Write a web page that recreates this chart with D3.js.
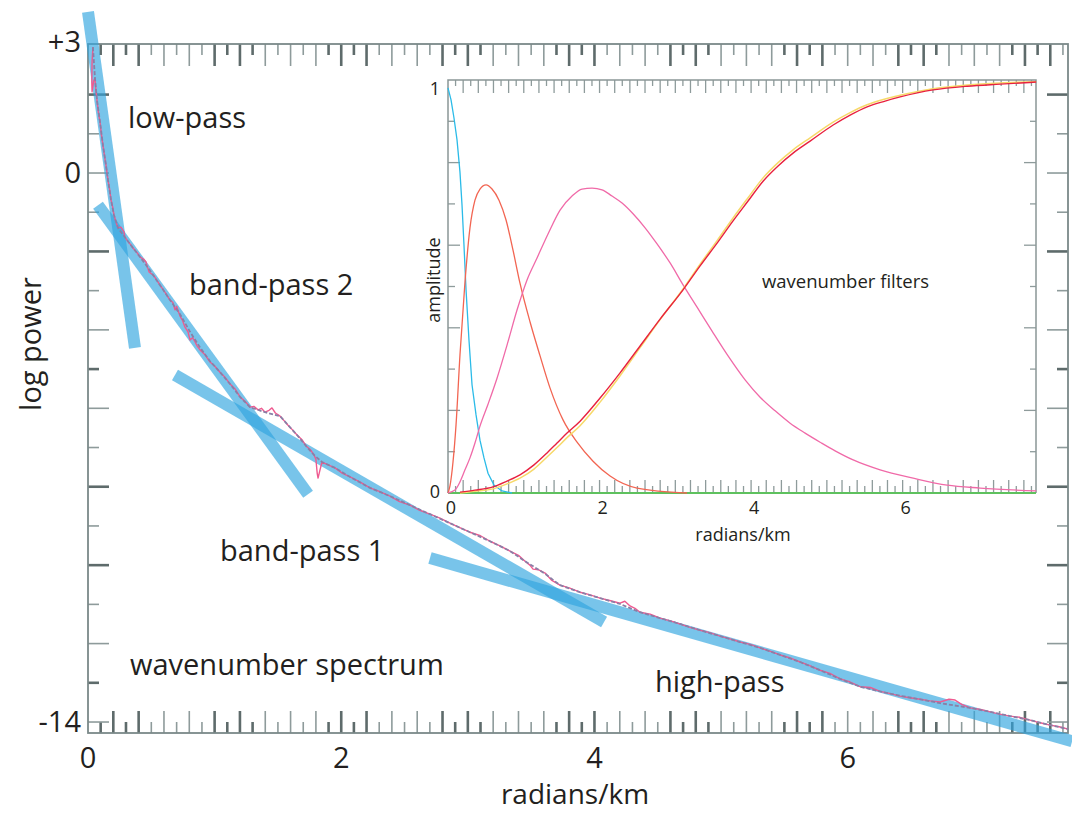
<!DOCTYPE html>
<html><head><meta charset="utf-8">
<script src="https://cdn.jsdelivr.net/npm/d3@7"></script>
<style>
body{margin:0;background:#fff}
svg{display:block}
text{font-family:"Open Sans",sans-serif;fill:#231f20}
</style>
</head><body>
<svg id="c" width="1072" height="814"></svg>
<script>
// ---------- DATA ----------
const xTickLabels = [0, 2, 4, 6];
const yTickLabelValues = [3, 0, -14];
const yTickLabelTexts = ["+3", "0", "-14"];
const insetXTickLabels = [0, 2, 4, 6];
const insetYTickLabels = [0, 1];

// straight-line fits: [x, log power] end points
const fitLowPass   = [[0.000, 4.11], [0.371, -4.46]];
const fitBandPass2 = [[0.079, -0.82], [1.738, -8.19]];
const fitBandPass1 = [[0.687, -5.15], [4.076, -11.45]];
const fitHighPass  = [[2.701, -9.82], [7.773, -14.49]];

// wavenumber spectrum (raw, pink)
const spectrumRaw = [[0.039,3.21],[0.032,2.83],[0.030,2.30],[0.032,2.07],[0.045,2.35],[0.055,2.42],[0.063,2.10],[0.071,1.86],[0.083,1.52],[0.095,1.30],[0.106,0.98],[0.118,0.71],[0.130,0.45],[0.142,0.20],[0.158,-0.18],[0.170,-0.40],[0.182,-0.69],[0.194,-0.85],[0.205,-1.07],[0.221,-1.25],[0.237,-1.40],[0.260,-1.38],[0.284,-1.50],[0.290,-1.62],[0.308,-1.71],[0.330,-1.80],[0.355,-1.91],[0.385,-2.02],[0.411,-2.14],[0.440,-2.20],[0.458,-2.27],[0.470,-2.40],[0.482,-2.52],[0.520,-2.62],[0.569,-2.86],[0.610,-3.05],[0.648,-3.24],[0.670,-3.30],[0.687,-3.49],[0.700,-3.40],[0.727,-3.65],[0.745,-3.75],[0.766,-3.93],[0.790,-4.05],[0.806,-4.26],[0.825,-4.20],[0.845,-4.30],[0.860,-4.40],[0.885,-4.51],[0.920,-4.62],[0.964,-4.82],[1.000,-4.92],[1.043,-5.08],[1.080,-5.20],[1.122,-5.38],[1.160,-5.50],[1.201,-5.71],[1.240,-5.82],[1.280,-5.97],[1.310,-5.95],[1.343,-6.04],[1.370,-6.00],[1.398,-6.10],[1.430,-6.05],[1.453,-5.99],[1.480,-6.12],[1.517,-6.20],[1.550,-6.32],[1.580,-6.43],[1.615,-6.55],[1.651,-6.68],[1.690,-6.80],[1.722,-6.96],[1.755,-7.05],[1.785,-7.19],[1.800,-7.30],[1.810,-7.65],[1.817,-7.78],[1.830,-7.60],[1.848,-7.37],[1.900,-7.45],[1.951,-7.52],[2.010,-7.66],[2.070,-7.75],[2.150,-7.88],[2.227,-8.03],[2.300,-8.12],[2.385,-8.24],[2.460,-8.38],[2.543,-8.47],[2.620,-8.60],[2.701,-8.70],[2.780,-8.80],[2.859,-8.93],[2.940,-9.05],[3.017,-9.16],[3.100,-9.25],[3.175,-9.39],[3.250,-9.50],[3.333,-9.64],[3.400,-9.75],[3.452,-9.90],[3.490,-10.00],[3.515,-10.10],[3.560,-10.12],[3.610,-10.20],[3.660,-10.38],[3.728,-10.51],[3.800,-10.58],[3.886,-10.69],[3.960,-10.75],[4.044,-10.84],[4.120,-10.90],[4.202,-10.97],[4.240,-10.92],[4.281,-11.04],[4.320,-11.10],[4.360,-11.20],[4.440,-11.25],[4.518,-11.35],[4.600,-11.42],[4.676,-11.50],[4.750,-11.58],[4.834,-11.66],[4.910,-11.72],[4.992,-11.81],[5.070,-11.88],[5.150,-11.96],[5.230,-12.02],[5.308,-12.11],[5.390,-12.20],[5.466,-12.29],[5.540,-12.36],[5.624,-12.47],[5.700,-12.56],[5.782,-12.68],[5.860,-12.76],[5.940,-12.90],[6.020,-12.98],[6.098,-13.10],[6.180,-13.12],[6.256,-13.22],[6.330,-13.27],[6.414,-13.34],[6.490,-13.38],[6.572,-13.42],[6.650,-13.46],[6.730,-13.49],[6.800,-13.42],[6.848,-13.44],[6.900,-13.55],[6.967,-13.64],[7.050,-13.68],[7.125,-13.74],[7.200,-13.80],[7.283,-13.85],[7.360,-13.88],[7.441,-13.95],[7.520,-14.02],[7.599,-14.08],[7.670,-14.12],[7.741,-14.18]];

// wavenumber spectrum (smoothed, grey-purple)
const spectrumSmooth = [[0.039,3.21],[0.055,2.42],[0.071,1.86],[0.095,1.30],[0.118,0.71],[0.142,0.20],[0.158,-0.18],[0.182,-0.69],[0.205,-1.07],[0.237,-1.40],[0.308,-1.71],[0.355,-1.91],[0.411,-2.14],[0.482,-2.45],[0.569,-2.86],[0.648,-3.24],[0.727,-3.60],[0.806,-4.05],[0.885,-4.45],[0.964,-4.80],[1.043,-5.08],[1.122,-5.38],[1.201,-5.71],[1.280,-5.97],[1.398,-6.10],[1.517,-6.20],[1.580,-6.43],[1.651,-6.68],[1.722,-6.96],[1.785,-7.19],[1.848,-7.37],[1.951,-7.52],[2.070,-7.75],[2.227,-8.03],[2.385,-8.24],[2.543,-8.47],[2.701,-8.70],[2.859,-8.93],[3.017,-9.16],[3.175,-9.39],[3.333,-9.64],[3.452,-9.90],[3.610,-10.22],[3.728,-10.51],[3.886,-10.69],[4.044,-10.84],[4.202,-10.99],[4.360,-11.20],[4.518,-11.35],[4.676,-11.50],[4.834,-11.66],[4.992,-11.81],[5.150,-11.96],[5.308,-12.11],[5.466,-12.29],[5.624,-12.47],[5.782,-12.68],[5.940,-12.90],[6.098,-13.10],[6.256,-13.22],[6.414,-13.33],[6.572,-13.42],[6.730,-13.52],[6.967,-13.64],[7.125,-13.74],[7.283,-13.85],[7.441,-13.95],[7.599,-14.08],[7.741,-14.18]];

// inset: wavenumber filters (radians/km, amplitude)
const filterLowPass = [[0.000,0.981],[0.040,0.952],[0.079,0.908],[0.119,0.855],[0.158,0.777],[0.185,0.697],[0.211,0.600],[0.238,0.492],[0.277,0.370],[0.317,0.262],[0.370,0.189],[0.422,0.128],[0.475,0.085],[0.528,0.048],[0.607,0.019],[0.713,0.005],[0.845,0.000]];
const filterBandPass1 = [[0.000,0.000],[0.026,0.017],[0.066,0.075],[0.106,0.165],[0.158,0.334],[0.224,0.511],[0.290,0.642],[0.356,0.709],[0.422,0.736],[0.502,0.746],[0.581,0.736],[0.673,0.709],[0.766,0.661],[0.858,0.588],[0.950,0.508],[1.083,0.414],[1.215,0.332],[1.347,0.254],[1.518,0.177],[1.703,0.123],[1.914,0.077],[2.139,0.041],[2.495,0.012],[3.155,0.000]];
const filterBandPass2 = [[0.000,0.000],[0.092,0.007],[0.158,0.027],[0.224,0.056],[0.290,0.085],[0.356,0.121],[0.422,0.162],[0.528,0.215],[0.647,0.278],[0.779,0.358],[0.911,0.443],[1.043,0.516],[1.175,0.569],[1.320,0.627],[1.479,0.685],[1.637,0.719],[1.769,0.736],[1.901,0.738],[2.033,0.734],[2.165,0.719],[2.297,0.702],[2.442,0.676],[2.601,0.642],[2.759,0.603],[2.931,0.557],[3.102,0.504],[3.287,0.450],[3.485,0.392],[3.696,0.332],[3.921,0.274],[4.119,0.232],[4.317,0.199],[4.515,0.169],[4.713,0.145],[4.911,0.123],[5.109,0.102],[5.347,0.080],[5.703,0.056],[6.139,0.036],[6.587,0.019],[7.023,0.012],[7.762,0.005]];
const filterHighPass = [[0.158,0.002],[0.356,0.007],[0.594,0.015],[0.779,0.029],[0.950,0.044],[1.135,0.068],[1.307,0.097],[1.439,0.121],[1.571,0.145],[1.743,0.174],[2.007,0.230],[2.271,0.291],[2.535,0.356],[2.799,0.421],[3.102,0.492],[3.327,0.550],[3.551,0.605],[3.762,0.659],[3.960,0.707],[4.158,0.755],[4.356,0.792],[4.554,0.823],[4.779,0.852],[5.083,0.891],[5.307,0.915],[5.531,0.935],[5.769,0.949],[5.967,0.959],[6.403,0.976],[6.852,0.985],[7.287,0.990],[7.762,0.995]];
const filterSum = [[0.158,0.000],[0.356,0.004],[0.594,0.010],[0.779,0.022],[0.950,0.036],[1.135,0.058],[1.307,0.087],[1.439,0.110],[1.571,0.134],[1.743,0.163],[2.007,0.220],[2.271,0.284],[2.535,0.352],[2.799,0.420],[3.102,0.494],[3.327,0.554],[3.551,0.611],[3.762,0.666],[3.960,0.715],[4.158,0.763],[4.356,0.800],[4.554,0.831],[4.779,0.860],[5.083,0.898],[5.307,0.921],[5.531,0.940],[5.769,0.954],[5.967,0.963],[6.403,0.979],[6.852,0.988],[7.287,0.993],[7.762,0.996]];
const filterZero = [[0, 0], [7.76, 0]];

// ---------- DRAW ----------
const svg = d3.select("#c");
const x = d3.scaleLinear().domain([0, 7.74]).range([88, 1068]);
const y = d3.scaleLinear().domain([-14.28, 3.29]).range([733, 44]);
const ix = d3.scaleLinear().domain([0, 7.76]).range([448, 1036]);
const iy = d3.scaleLinear().domain([0, 1]).range([493, 80]);

const thin = "#8e9b9b", thick = "#5e6b6b", frameCol = "#7b8989";
const [X0, X1] = x.range(), [Y0, Y1] = y.range();

// main ticks along x (top and bottom)
const xMinor = d3.range(1, 78).map(i => i / 10);
const gT = svg.append("g");
xMinor.forEach((v, k) => {
  const i = k + 1;
  const long = i % 2 === 0;
  const isThick = ((i - 1) % 9) < 4;
  const len = long ? 22 : 11;
  const px = x(v);
  [[Y1, Y1 + len], [Y0, Y0 - len]].forEach(([a, b]) => {
    gT.append("line").attr("x1", px).attr("x2", px).attr("y1", a).attr("y2", b)
      .attr("stroke", isThick ? thick : thin).attr("stroke-width", isThick ? 2.6 : 1.6);
  });
});
// main ticks along y (left and right)
const yMinor = d3.range(-14, 3);
const thickY = new Set([2, -2, -5, -8, -10, -13]);
yMinor.forEach(v => {
  const long = v % 2 === 0;
  const len = long ? 21 : 11;
  const py = y(v);
  const isThick = thickY.has(v);
  [[X0, X0 + len], [X1, X1 - len]].forEach(([a, b]) => {
    gT.append("line").attr("x1", a).attr("x2", b).attr("y1", py).attr("y2", py)
      .attr("stroke", isThick ? thick : thin).attr("stroke-width", isThick ? 2.6 : 1.6);
  });
});
svg.append("rect").attr("x", X0).attr("y", Y1).attr("width", X1 - X0).attr("height", Y0 - Y1)
  .attr("fill", "none").attr("stroke", frameCol).attr("stroke-width", 1.8);

// fit lines
const line = d3.line().x(d => x(d[0])).y(d => y(d[1]));
[fitLowPass, fitBandPass2, fitBandPass1, fitHighPass].forEach(f => {
  svg.append("path").attr("d", line(f)).attr("fill", "none")
    .attr("stroke", "#2fa5de").attr("stroke-opacity", 0.65).attr("stroke-width", 12);
});
// spectrum
svg.append("path").attr("d", line(spectrumRaw)).attr("fill", "none")
  .attr("stroke", "#ef5a90").attr("stroke-width", 1.4).attr("stroke-linejoin", "round");
svg.append("path").attr("d", line(spectrumSmooth)).attr("fill", "none")
  .attr("stroke", "#8a7fa6").attr("stroke-width", 1.8).attr("stroke-dasharray", "4,2");

// main tick labels
svg.append("g").selectAll("text").data(xTickLabels).join("text")
  .attr("x", d => x(d)).attr("y", 768).attr("text-anchor", "middle")
  .style("font-size", "29px").text(d => d);
svg.append("g").selectAll("text").data(yTickLabelValues).join("text")
  .attr("x", 81).attr("y", (d, i) => (i === 0 ? y.range()[1] - 2 : y(d)) + 10)
  .attr("text-anchor", "end").style("font-size", "29px")
  .text((d, i) => yTickLabelTexts[i]);

// main axis titles & annotations
svg.append("text").attr("x", 575).attr("y", 804).attr("text-anchor", "middle")
  .style("font-size", "28px").text("radians/km");
svg.append("text").attr("transform", "translate(41,344) rotate(-90)").attr("text-anchor", "middle")
  .style("font-size", "29px").text("log power");
const notes = [["low-pass", 128, 128], ["band-pass 2", 189, 295], ["band-pass 1", 220, 561],
               ["wavenumber spectrum", 130, 675], ["high-pass", 655, 692]];
svg.append("g").selectAll("text").data(notes).join("text")
  .attr("x", d => d[1]).attr("y", d => d[2]).style("font-size", "29px").text(d => d[0]);

// ---------- INSET ----------
const [IX0, IX1] = ix.range(), [IY0, IY1] = iy.range();
const gi = svg.append("g");
const iTickCol = "#8e9b9b";
xMinor.forEach((v, k) => {
  const i = k + 1;
  const long = i % 2 === 0;
  const px = ix(v);
  gi.append("line").attr("x1", px).attr("x2", px).attr("y1", IY1).attr("y2", IY1 + (long ? 13 : 6))
    .attr("stroke", iTickCol).attr("stroke-width", 1.3);
  gi.append("line").attr("x1", px).attr("x2", px).attr("y1", IY0).attr("y2", IY0 - (long ? 13 : 7))
    .attr("stroke", iTickCol).attr("stroke-width", 1.3);
});
d3.range(1, 10).forEach(i => {
  const v = i / 10, long = i % 2 === 0, py = iy(v);
  gi.append("line").attr("x1", IX0).attr("x2", IX0 + (long ? 12 : 7)).attr("y1", py).attr("y2", py)
    .attr("stroke", iTickCol).attr("stroke-width", 1.3);
  gi.append("line").attr("x1", IX1).attr("x2", IX1 - (long ? 12 : 6)).attr("y1", py).attr("y2", py)
    .attr("stroke", iTickCol).attr("stroke-width", 1.3);
});
gi.append("path").attr("d", `M${IX0},${IY0}V${IY1}H${IX1}V${IY0}`).attr("fill", "none")
  .attr("stroke", "#8a9696").attr("stroke-width", 1.5);

const iline = d3.line().x(d => ix(d[0])).y(d => iy(d[1])).curve(d3.curveMonotoneX);
const ilineLin = d3.line().x(d => ix(d[0])).y(d => iy(d[1]));
gi.append("path").attr("d", ilineLin(filterZero)).attr("fill", "none").attr("stroke", "#5ec15e").attr("stroke-width", 1.8);
gi.append("path").attr("d", ilineLin(filterLowPass)).attr("fill", "none").attr("stroke", "#2bbbe8").attr("stroke-width", 1.3);
gi.append("path").attr("d", iline(filterBandPass1)).attr("fill", "none").attr("stroke", "#f26552").attr("stroke-width", 1.3);
gi.append("path").attr("d", iline(filterBandPass2)).attr("fill", "none").attr("stroke", "#f06aa8").attr("stroke-width", 1.3);
gi.append("path").attr("d", iline(filterSum)).attr("fill", "none").attr("stroke", "#f7d96a").attr("stroke-width", 1.5);
gi.append("path").attr("d", iline(filterHighPass)).attr("fill", "none").attr("stroke", "#e8213f").attr("stroke-width", 1.4);

// inset labels
gi.selectAll("text.xl").data(insetXTickLabels).join("text").attr("class", "xl")
  .attr("x", d => ix(d) + 3).attr("y", 514).attr("text-anchor", "middle")
  .style("font-size", "18px").text(d => d);
gi.selectAll("text.yl").data(insetYTickLabels).join("text").attr("class", "yl")
  .attr("x", 440).attr("y", d => iy(d) + (d === 1 ? 15 : 5)).attr("text-anchor", "end")
  .style("font-size", "18px").text(d => d);
gi.append("text").attr("x", 743).attr("y", 541).attr("text-anchor", "middle")
  .style("font-size", "18px").text("radians/km");
gi.append("text").attr("transform", "translate(440,280) rotate(-90)").attr("text-anchor", "middle")
  .style("font-size", "18px").text("amplitude");
gi.append("text").attr("x", 762).attr("y", 288).style("font-size", "18.5px").text("wavenumber filters");
</script>
</body></html>
